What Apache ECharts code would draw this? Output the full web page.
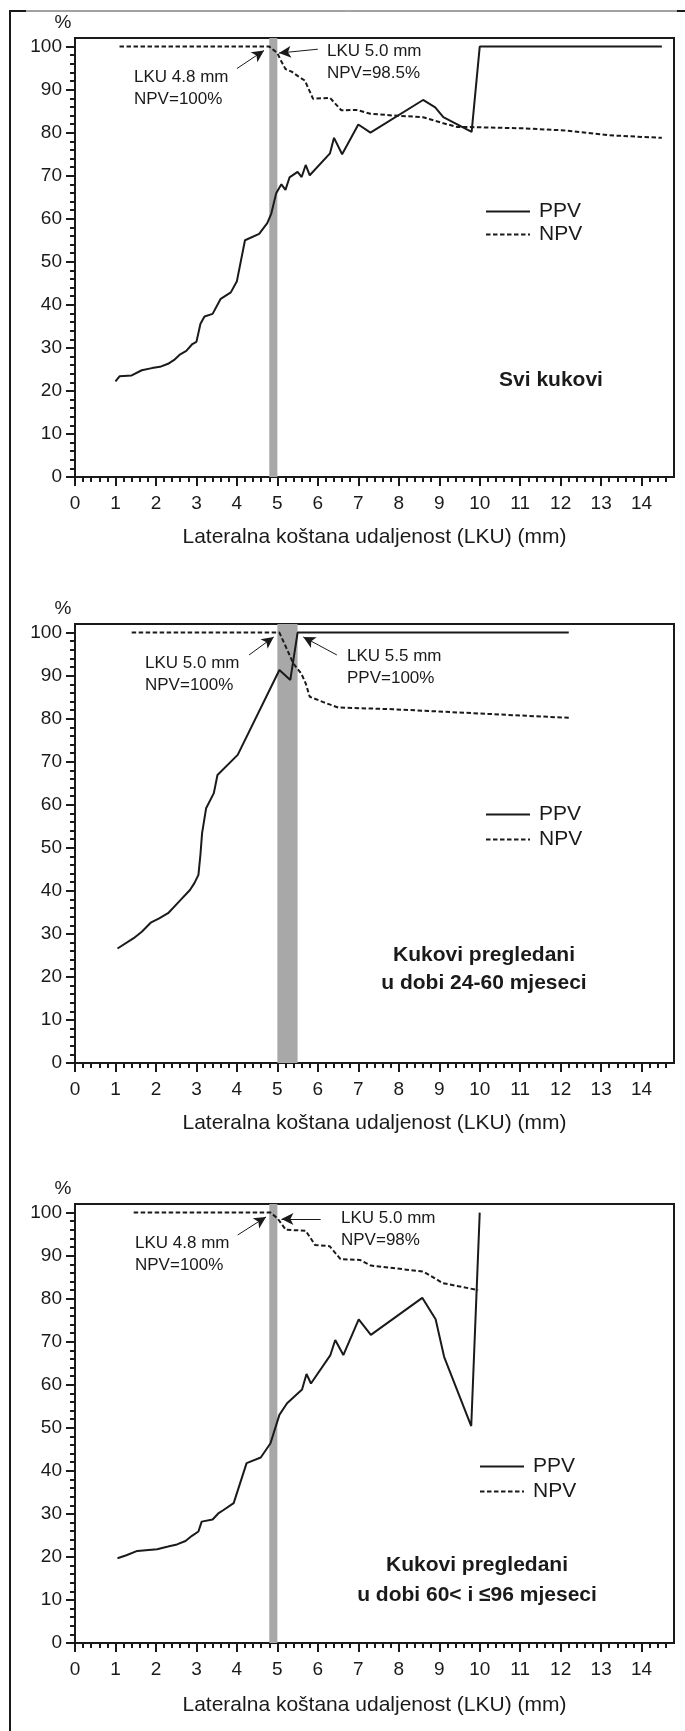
<!DOCTYPE html>
<html>
<head>
<meta charset="utf-8">
<script src="https://cdn.jsdelivr.net/npm/echarts@6/dist/echarts.min.js"></script>
<style>
html, body { margin: 0; padding: 0; background: #fff; }
#chart { width: 685px; height: 1731px; }
</style>
</head>
<body>
<div id="chart"></div>
<script>
var FONT = '"Liberation Sans", Arial, Helvetica, sans-serif';
var INK = '#1a1a1a';

// tick labels
var xTicks = [0, 1, 2, 3, 4, 5, 6, 7, 8, 9, 10, 11, 12, 13, 14];
var yTicks = [0, 10, 20, 30, 40, 50, 60, 70, 80, 90, 100];

// Svi kukovi  [LKU mm, %]
var ppvAll = [[1.0, 22.2], [1.1, 23.4], [1.4, 23.6], [1.65, 24.8], [1.9, 25.3], [2.1, 25.6], [2.3, 26.3],
	[2.45, 27.2], [2.6, 28.5], [2.75, 29.3], [2.9, 30.9], [3.0, 31.4], [3.1, 35.6], [3.2, 37.3], [3.4, 37.9],
	[3.6, 41.4], [3.85, 42.9], [4.0, 45.5], [4.2, 55.0], [4.55, 56.5], [4.75, 59.0], [4.85, 61.2], [4.97, 65.9],
	[5.1, 68.0], [5.2, 66.7], [5.3, 69.6], [5.5, 70.9], [5.6, 69.7], [5.7, 72.5], [5.8, 70.1], [6.3, 75.2],
	[6.4, 78.8], [6.6, 75.0], [7.0, 81.9], [7.3, 80.0], [8.6, 87.6], [8.9, 85.9], [9.1, 83.6], [9.8, 80.2],
	[10.0, 100], [14.5, 100]];
var npvAll = [[1.1, 100], [4.8, 100], [5.0, 98.5], [5.08, 96.9], [5.2, 94.8], [5.35, 94.2], [5.5, 93.2],
	[5.68, 92.1], [5.88, 87.9], [6.3, 88.1], [6.58, 85.2], [6.95, 85.3], [7.3, 84.4], [7.85, 84.0], [8.6, 83.6],
	[9.1, 82.2], [9.45, 81.3], [9.8, 81.3], [11.1, 81.0], [12.15, 80.5], [13.2, 79.4], [14.5, 78.8]];

// 24-60 mjeseci
var ppv2460 = [[1.05, 26.6], [1.45, 29.0], [1.65, 30.5], [1.87, 32.6], [2.08, 33.6], [2.3, 34.8], [2.57, 37.5],
	[2.84, 40.2], [2.95, 41.8], [3.05, 43.7], [3.1, 48.5], [3.14, 53.4], [3.24, 59.2], [3.43, 62.7], [3.52, 66.9],
	[4.02, 71.6], [5.05, 91.3], [5.32, 89.0], [5.5, 100], [12.2, 100]];
var npv2460 = [[1.4, 100], [5.05, 100], [5.21, 96.7], [5.39, 92.9], [5.59, 90.5], [5.7, 88.2], [5.8, 85.1],
	[6.12, 83.9], [6.5, 82.6], [7.85, 82.2], [10.0, 81.2], [12.2, 80.2]];

// 60< i <=96 mjeseci
var ppv6096 = [[1.05, 19.7], [1.27, 20.4], [1.54, 21.4], [2.03, 21.8], [2.3, 22.4], [2.52, 22.9], [2.73, 23.7],
	[2.89, 24.9], [3.05, 25.9], [3.13, 28.2], [3.4, 28.7], [3.54, 30.1], [3.67, 30.9], [3.92, 32.5], [4.24, 41.8],
	[4.59, 43.1], [4.83, 46.4], [5.05, 53.0], [5.24, 55.7], [5.61, 58.9], [5.72, 62.5], [5.83, 60.3], [6.31, 66.9],
	[6.43, 70.4], [6.63, 66.9], [7.01, 75.2], [7.31, 71.6], [8.58, 80.2], [8.91, 75.2], [9.12, 66.5], [9.79, 50.4],
	[10.0, 100]];
var npv6096 = [[1.45, 100], [4.83, 100], [5.0, 98.7], [5.21, 96.0], [5.7, 95.8], [5.93, 92.5], [6.29, 92.2],
	[6.56, 89.2], [7.04, 89.0], [7.31, 87.7], [8.61, 86.3], [9.09, 83.6], [9.96, 82.0]];

// grey cut-off bands (mm)
var bands = [[4.8, 5.0], [5.0, 5.5], [4.8, 5.0]];

// annotation arrows, from -> tip, in axis units
var arrows = [
	[[[4.0, 94.9], [4.67, 99.1]], [[6.0, 99.4], [5.04, 98.5]]],
	[[[4.3, 94.8], [4.91, 99.0]], [[6.47, 94.8], [5.64, 99.0]]],
	[[[4.02, 94.8], [4.72, 99.0]], [[6.07, 98.5], [5.1, 98.5]]]
];

var panels = [
	{ top: 38, ppv: ppvAll, npv: npvAll, nameGap: 50, legend: [480, 195], legendRow: 23,
		notes: [[134, 66, 'LKU 4.8 mm\nNPV=100%'], [327, 40, 'LKU 5.0 mm\nNPV=98.5%']],
		label: [551, 369, 'Svi kukovi', 22] },
	{ top: 624, ppv: ppv2460, npv: npv2460, nameGap: 50, legend: [480, 797], legendRow: 25,
		notes: [[145, 652, 'LKU 5.0 mm\nNPV=100%'], [347, 645, 'LKU 5.5 mm\nPPV=100%']],
		label: [484, 941, 'Kukovi pregledani\nu dobi 24-60 mjeseci', 28] },
	{ top: 1204, ppv: ppv6096, npv: npv6096, nameGap: 52, legend: [474, 1449], legendRow: 25,
		notes: [[135, 1232, 'LKU 4.8 mm\nNPV=100%'], [341, 1207, 'LKU 5.0 mm\nNPV=98%']],
		label: [477, 1550, 'Kukovi pregledani\nu dobi 60< i \u226496 mjeseci', 30] }
];

var grids = [], xAxes = [], yAxes = [], series = [], legends = [];
var graphics = [
	{ type: 'line', shape: { x1: 10, y1: 11, x2: 685, y2: 11 }, style: { stroke: '#444', lineWidth: 1 } },
	{ type: 'line', shape: { x1: 10, y1: 11, x2: 26, y2: 11 }, style: { stroke: INK, lineWidth: 2 } },
	{ type: 'line', shape: { x1: 677, y1: 11, x2: 685, y2: 11 }, style: { stroke: INK, lineWidth: 2 } },
	{ type: 'line', shape: { x1: 10, y1: 10, x2: 10, y2: 1731 }, style: { stroke: INK, lineWidth: 2 } }
];

panels.forEach(function(p, i) {
	grids.push({
		left: 75, right: 11, top: p.top, height: 439,
		show: true, borderColor: INK, borderWidth: 2, backgroundColor: 'transparent'
	});
	xAxes.push({
		type: 'value', gridIndex: i, min: 0, max: 14.8, interval: 1,
		name: 'Lateralna koštana udaljenost (LKU) (mm)',
		nameLocation: 'middle', nameGap: p.nameGap,
		nameTextStyle: { fontFamily: FONT, fontSize: 21, color: INK },
		axisLine: { show: true, onZero: false, lineStyle: { color: INK, width: 2 } },
		axisTick: { show: true, length: 9, customValues: xTicks, lineStyle: { color: INK, width: 2 } },
		minorTick: { show: true, splitNumber: 5, length: 5, lineStyle: { color: INK, width: 2 } },
		axisLabel: { customValues: xTicks, margin: 17, fontFamily: FONT, fontSize: 19, color: INK },
		splitLine: { show: false }
	});
	yAxes.push({
		type: 'value', gridIndex: i, min: 0, max: 102, interval: 10,
		name: '%', nameLocation: 'end', nameGap: 6,
		nameTextStyle: { fontFamily: FONT, fontSize: 19, color: INK, padding: [0, 24, 0, 0] },
		axisLine: { show: true, lineStyle: { color: INK, width: 2 } },
		axisTick: { show: true, length: 9, customValues: yTicks, lineStyle: { color: INK, width: 2 } },
		minorTick: { show: true, splitNumber: 5, length: 5, lineStyle: { color: INK, width: 2 } },
		axisLabel: { customValues: yTicks, margin: 13, fontFamily: FONT, fontSize: 19, color: INK },
		splitLine: { show: false }
	});

	series.push({
		type: 'line', name: 'band', xAxisIndex: i, yAxisIndex: i, data: [], z: 1,
		silent: true,
		markArea: {
			silent: true,
			itemStyle: { color: '#a8a8a8', opacity: 1 },
			data: [[{ xAxis: bands[i][0] }, { xAxis: bands[i][1] }]]
		}
	});
	series.push({
		type: 'line', name: 'PPV', xAxisIndex: i, yAxisIndex: i, data: p.ppv, z: 3,
		symbol: 'none', silent: true, animation: false,
		lineStyle: { color: INK, width: 2 }, itemStyle: { color: INK },
		markLine: {
			silent: true, animation: false,
			symbol: ['none', 'arrow'], symbolSize: [9, 12],
			label: { show: false },
			lineStyle: { color: INK, width: 1, type: 'solid' },
			data: arrows[i].map(function(a) { return [{ coord: a[0] }, { coord: a[1] }]; })
		}
	});
	series.push({
		type: 'line', name: 'NPV', xAxisIndex: i, yAxisIndex: i, data: p.npv, z: 3,
		symbol: 'none', silent: true, animation: false,
		lineStyle: { color: INK, width: 2, type: [4.5, 2.5] }, itemStyle: { color: INK }
	});

	legends.push({
		data: ['PPV', 'NPV'], orient: 'vertical', left: p.legend[0], top: p.legend[1],
		itemWidth: 44, itemHeight: 12, itemGap: 0, selectedMode: false,
		itemStyle: { opacity: 0 },
		lineStyle: { width: 2 },
		textStyle: { fontFamily: FONT, fontSize: 21, color: INK, lineHeight: p.legendRow, padding: [0, 0, 0, 4] }
	});

	p.notes.forEach(function(n) {
		graphics.push({
			type: 'text', x: n[0], y: n[1],
			style: { text: n[2], fill: INK, font: '17px ' + FONT, lineHeight: 22, align: 'left', verticalAlign: 'top' }
		});
	});
	graphics.push({
		type: 'text', x: p.label[0], y: p.label[1],
		style: { text: p.label[2], fill: INK, font: 'bold 21px ' + FONT, lineHeight: p.label[3],
			align: 'center', textAlign: 'center', verticalAlign: 'top' }
	});
});

var chart = echarts.init(document.getElementById('chart'), null, { renderer: 'canvas' });
chart.setOption({
	animation: false,
	backgroundColor: '#fff',
	textStyle: { fontFamily: FONT },
	grid: grids,
	xAxis: xAxes,
	yAxis: yAxes,
	legend: legends,
	series: series,
	graphic: graphics
});
</script>
</body>
</html>
